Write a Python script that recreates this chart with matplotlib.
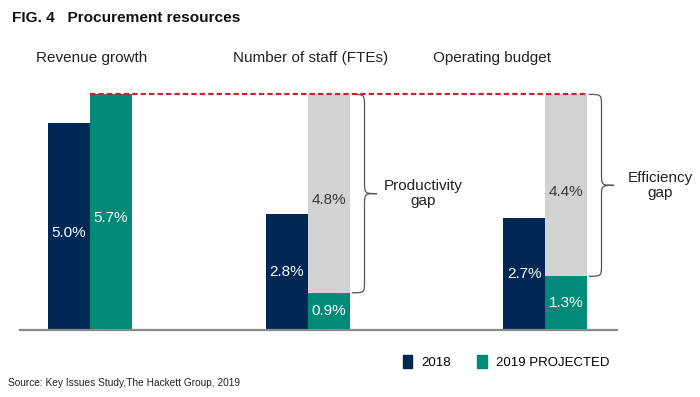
import numpy as np
import matplotlib.pyplot as plt
from matplotlib.patches import Patch, PathPatch
from matplotlib.path import Path

plt.rcParams['font.family'] = ['Liberation Sans', 'DejaVu Sans']

categories = ['Revenue growth', 'Number of staff (FTEs)', 'Operating budget']
v2018 = [5.0, 2.8, 2.7]
v2019 = [5.7, 0.9, 1.3]
gap = [0.0, 4.8, 4.4]
gap_names = ['', 'Productivity\ngap', 'Efficiency\ngap']
series_names = ['2018', '2019 PROJECTED']

navy = '#002856'
teal = '#008a78'
grey = '#d1d2d4'
red = '#c0282d'

# layout (x in pixel units of the 700 px wide figure)
group_x = [90, 308, 545]
label_x = [92, 311, 492]
bw = 42

fig = plt.figure(figsize=(7, 3.97), dpi=100)
ax = fig.add_axes([20 / 700, 67 / 397, 597 / 700, 248 / 397])
ax.set_xlim(20, 617)
ax.set_ylim(0, 6.0)
for s in ['top', 'left', 'right']:
    ax.spines[s].set_visible(False)
ax.spines['bottom'].set_color('#8a8a8a')
ax.spines['bottom'].set_linewidth(1.6)
ax.set_xticks([])
ax.set_yticks([])


def vlabel(x, y0, h, color):
    y = y0 + h / 2 - (0.15 if h > 3 else 0)
    ax.text(x, y, f'{h:.1f}%', ha='center', va='center', fontsize=11, color=color)


def brace(x0, y0, y1, w, d):
    ym = (y0 + y1) / 2
    xm = x0 + w / 2
    verts = [(x0, y1), (xm, y1), (xm, y1), (xm, y1 - d),
             (xm, ym + d), (xm, ym), (xm, ym), (x0 + w, ym),
             (xm, ym), (xm, ym), (xm, ym - d),
             (xm, y0 + d), (xm, y0), (xm, y0), (x0, y0)]
    codes = [Path.MOVETO, Path.CURVE4, Path.CURVE4, Path.CURVE4,
             Path.LINETO, Path.CURVE4, Path.CURVE4, Path.CURVE4,
             Path.CURVE4, Path.CURVE4, Path.CURVE4,
             Path.LINETO, Path.CURVE4, Path.CURVE4, Path.CURVE4]
    ax.add_patch(PathPatch(Path(verts, codes), fill=False, lw=0.9,
                           edgecolor='#555555', clip_on=False))


for i in range(len(categories)):
    xl = group_x[i] - bw / 2
    xr = group_x[i] + bw / 2
    ax.bar(xl, v2018[i], width=bw, color=navy)
    ax.bar(xr, v2019[i], width=bw, color=teal)
    vlabel(xl, 0, v2018[i], 'white')
    vlabel(xr, 0, v2019[i], 'white')
    if gap[i] > 0:
        ax.bar(xr, gap[i], width=bw, bottom=v2019[i], color=grey)
        vlabel(xr, v2019[i], gap[i], '#3a3a3a')
        top = v2019[i] + gap[i]
        brace(xr + bw / 2 + 2, v2019[i], top, 25, 0.3)
        ax.text(xr + bw / 2 + 73, (v2019[i] + top) / 2, gap_names[i],
                ha='center', va='center', fontsize=11, color='#222222',
                linespacing=1.1, clip_on=False)
    fig.text(label_x[i] / 700, 1 - 58 / 397, categories[i], ha='center',
             va='center', fontsize=11, color='#222222')

# target line at projected revenue growth
ax.plot([group_x[0], group_x[2] + bw + 1], [v2019[0], v2019[0]], color=red,
        lw=1.6, dashes=(2.4, 1.4), clip_on=False)

fig.text(12 / 700, 1 - 18 / 397, 'FIG. 4   Procurement resources',
         fontsize=11.1, fontweight='bold', va='center', color='#111111')

handles = [Patch(color=navy), Patch(color=teal)]
fig.legend(handles, series_names, loc='center left',
           bbox_to_anchor=(403 / 700, 1 - 362 / 397), ncol=2, frameon=False,
           handlelength=0.7, handleheight=1.1, handletextpad=0.7,
           columnspacing=2.0, fontsize=9.5, borderpad=0, borderaxespad=0)

fig.text(8 / 700, 1 - 383 / 397, 'Source: Key Issues Study,The Hackett Group, 2019',
         fontsize=7.3, va='center', color='#222222')

fig.savefig('out.png', dpi=100)
